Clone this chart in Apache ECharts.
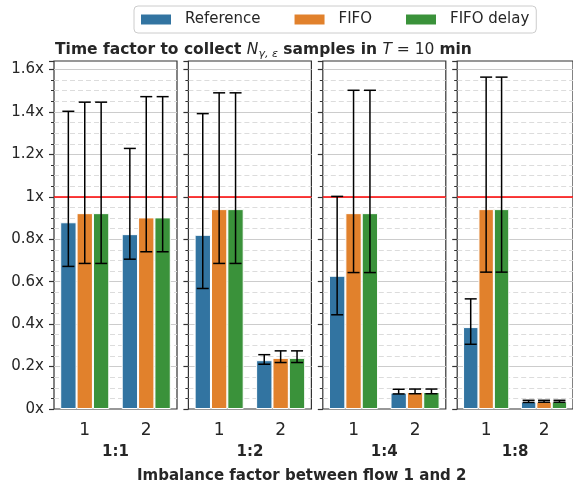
<!DOCTYPE html>
<html>
<head>
<meta charset="utf-8">
<script src="https://cdn.jsdelivr.net/npm/echarts@6/dist/echarts.min.js"></script>
<style>
  html, body { margin: 0; padding: 0; background: #fff; }
  #container { width: 573px; height: 487px; }
</style>
</head>
<body>
<div id="container"></div>
<script>
var dom = document.getElementById("container");
var myChart = echarts.init(dom);

// imbalance factor panels and flow categories
var panels = ["1:1", "1:2", "1:4", "1:8"];
var flows = ["1", "2"];
var seriesNames = ["Reference", "FIFO", "FIFO delay"];
var colors = ["#3274a1", "#e1812c", "#3a923a"];

// mean time factor, one row per panel: [flow 1, flow 2]
var refMean = [[0.880, 0.824], [0.821, 0.230], [0.628, 0.077], [0.386, 0.034]];
var refLow = [[0.672, 0.706], [0.568, 0.211], [0.444, 0.071], [0.305, 0.031]];
var refHigh = [[1.403, 1.228], [1.392, 0.256], [1.002, 0.093], [0.519, 0.041]];

var fifoMean = [[0.923, 0.903], [0.942, 0.241], [0.923, 0.080], [0.942, 0.035]];
var fifoLow = [[0.686, 0.741], [0.686, 0.219], [0.643, 0.072], [0.645, 0.032]];
var fifoHigh = [[1.446, 1.472], [1.490, 0.274], [1.502, 0.094], [1.564, 0.041]];

var delayMean = [[0.923, 0.903], [0.942, 0.241], [0.923, 0.080], [0.942, 0.035]];
var delayLow = [[0.686, 0.741], [0.686, 0.219], [0.643, 0.072], [0.645, 0.032]];
var delayHigh = [[1.446, 1.472], [1.490, 0.274], [1.502, 0.094], [1.564, 0.041]];

var yTicks = [0, 0.2, 0.4, 0.6, 0.8, 1, 1.2, 1.4, 1.6];

var means = [refMean, fifoMean, delayMean];
var lows = [refLow, fifoLow, delayLow];
var highs = [refHigh, fifoHigh, delayHigh];

var font = "DejaVu Sans";
var textColor = "#262626";
var yMax = 1.64;

var grid = [], xAxis = [], yAxis = [], series = [];

panels.forEach(function (p, i) {
  grid.push({
    left: 54 + i * 134.4, top: 61, width: 123, height: 348,
    show: true, borderColor: "#333", borderWidth: 1.2, backgroundColor: "#fff"
  });
  xAxis.push({
    type: "category", gridIndex: i, data: flows, position: "bottom",
    axisLine: { show: false }, axisTick: { show: false },
    axisLabel: { fontSize: 17, color: textColor, fontFamily: font, margin: 13 },
    name: p, nameLocation: "middle", nameGap: 36,
    nameTextStyle: { fontSize: 15, fontWeight: "bold", color: textColor, fontFamily: font }
  });
  // minor grid (dashed) first so major solid lines sit on top
  yAxis.push({
    type: "value", gridIndex: i, position: "left", min: 0, max: yMax, interval: 0.05,
    axisLine: { show: false },
    axisLabel: { show: false },
    axisTick: { show: true, length: 3, lineStyle: { color: "#333", width: 1 } },
    splitLine: { show: true, showMinLine: false, showMaxLine: false,
      lineStyle: { color: "#dcdcdc", type: [5, 3], width: 1 } }
  });
  yAxis.push({
    type: "value", gridIndex: i, position: "left", min: 0, max: yMax, interval: 0.2,
    axisLine: { show: false },
    axisLabel: {
      show: i === 0, fontSize: 15, color: textColor, fontFamily: font, margin: 10,
      formatter: function (v) {
        var hit = yTicks.filter(function (t) { return Math.abs(t - v) < 1e-6; });
        return hit.length ? hit[0] + "x" : "";
      }
    },
    axisTick: { show: true, length: 5, lineStyle: { color: "#333", width: 1.2 } },
    splitLine: { show: true, showMinLine: false, showMaxLine: false,
      lineStyle: { color: "#cccccc", width: 1.1 } }
  });

  var errData = [];
  seriesNames.forEach(function (name, k) {
    var s = {
      type: "bar", name: name, xAxisIndex: i, yAxisIndex: 2 * i + 1,
      data: means[k][i], barWidth: "26.6%", barGap: "0%",
      itemStyle: { color: colors[k], borderColor: "#fff", borderWidth: 1 },
      emphasis: { disabled: true }
    };
    if (k === 0) {
      s.markLine = {
        silent: true, symbol: "none", label: { show: false },
        lineStyle: { color: "#ff0000", width: 1.5, type: "solid" },
        data: [{ yAxis: 1 }]
      };
    }
    series.push(s);
    flows.forEach(function (f, c) {
      errData.push([c, k, lows[k][i][c], highs[k][i][c]]);
    });
  });

  series.push({
    type: "custom", xAxisIndex: i, yAxisIndex: 2 * i + 1, z: 5, silent: true,
    data: errData,
    renderItem: function (params, api) {
      var c = api.value(0), k = api.value(1);
      var bw = api.size([1, 0])[0] * 0.8 / 3;
      var x = api.coord([c, 0])[0] + (k - 1) * bw;
      var y0 = api.coord([c, api.value(2)])[1];
      var y1 = api.coord([c, api.value(3)])[1];
      var st = { stroke: "#000", lineWidth: 1.5 };
      return {
        type: "group",
        children: [
          { type: "line", shape: { x1: x, y1: y0, x2: x, y2: y1 }, style: st },
          { type: "line", shape: { x1: x - 6, y1: y0, x2: x + 6, y2: y0 }, style: st },
          { type: "line", shape: { x1: x - 6, y1: y1, x2: x + 6, y2: y1 }, style: st }
        ]
      };
    }
  });
});

option = {
  animation: false,
  textStyle: { fontFamily: font },
  title: {
    left: 55, top: 40, padding: 0,
    text: "{b|Time factor to collect }{i|N}{s|γ, ε}{b| samples in }{i|T}{r| = 10 }{b|min}",
    textStyle: {
      rich: {
        b: { fontSize: 15.5, fontWeight: "bold", color: textColor, fontFamily: font, lineHeight: 20 },
        i: { fontSize: 15.5, fontWeight: "normal", fontStyle: "italic", color: textColor, fontFamily: font, lineHeight: 20 },
        r: { fontSize: 15.5, fontWeight: "normal", color: textColor, fontFamily: font, lineHeight: 20 },
        s: { fontSize: 11, fontWeight: "normal", fontStyle: "italic", color: textColor, fontFamily: font,
             lineHeight: 20, verticalAlign: "bottom" }
      }
    }
  },
  legend: {
    data: seriesNames, left: 134, top: 6,
    icon: "rect", itemWidth: 30, itemHeight: 10, itemGap: 34,
    padding: [6, 7, 6, 7],
    borderColor: "#cccccc", borderWidth: 1, borderRadius: 4, backgroundColor: "#fff",
    itemStyle: { borderWidth: 0 },
    textStyle: { fontSize: 15, color: textColor, fontFamily: font, padding: [0, 0, 0, 9] }
  },
  graphic: [{
    type: "text", left: 137, top: 469,
    style: {
      text: "Imbalance factor between flow 1 and 2",
      font: "bold 15px 'DejaVu Sans'", fill: textColor
    }
  }],
  grid: grid,
  xAxis: xAxis,
  yAxis: yAxis,
  series: series
};

if (option && typeof option === "object") {
  myChart.setOption(option, true);
}
</script>
</body>
</html>
